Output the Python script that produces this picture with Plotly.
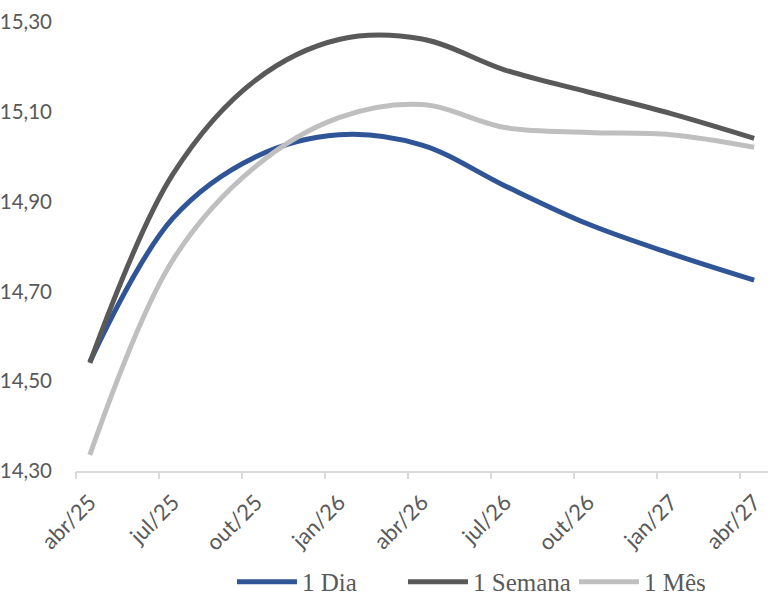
import plotly.graph_objects as go

quarters = ["abr/25", "jul/25", "out/25", "jan/26", "abr/26", "jul/26", "out/26", "jan/27", "abr/27"]
dia = [14.543, 14.863, 15.000, 15.049, 15.026, 14.935, 14.850, 14.784, 14.725]
semana = [14.541, 14.961, 15.171, 15.261, 15.262, 15.193, 15.144, 15.096, 15.041]
mes = [14.336, 14.770, 14.979, 15.087, 15.116, 15.065, 15.054, 15.049, 15.021]
y_ticks = [14.30, 14.50, 14.70, 14.90, 15.10, 15.30]

months_per_q = 3
xpos = [i * months_per_q for i in range(len(quarters))]
n_months = xpos[-1] + 1
boundaries = [m - 0.5 for m in range(0, n_months, months_per_q)]

SANS = "Lato, sans-serif"
SERIF = "Liberation Serif, serif"
TXT = "#595959"

fig = go.Figure()
series = [("1 Dia", dia, "#2F5597"), ("1 Semana", semana, "#595959"), ("1 Mês", mes, "#BFBFBF")]
for name, vals, col in series:
    fig.add_trace(go.Scatter(x=xpos, y=vals, name=name, mode="lines",
                             line=dict(color=col, width=5, shape="spline", smoothing=1)))

# invisible trace for tick-mark axis
fig.add_trace(go.Scatter(x=[boundaries[0]], y=[y_ticks[0]], xaxis="x2", mode="markers",
                         marker=dict(opacity=0), showlegend=False, hoverinfo="skip"))

fig.update_layout(
    width=779, height=597,
    margin=dict(l=76, r=11, t=22, b=126, autoexpand=False),
    paper_bgcolor="white", plot_bgcolor="white",
    font=dict(family=SANS, size=22, color=TXT),
    showlegend=True,
    legend=dict(orientation="h", x=0.2254, y=-0.247, xanchor="left", yanchor="middle",
                font=dict(family=SERIF, size=25, color=TXT), itemwidth=60,
                entrywidth=96, entrywidthmode="pixels", traceorder="normal"),
    xaxis=dict(range=[-0.5, n_months - 0.5], tickvals=xpos, ticktext=quarters, tickangle=-45,
               showline=True, linecolor="#D9D9D9", linewidth=1.5, ticks="", showgrid=False,
               zeroline=False, automargin=False, ticklabelstandoff=8,
               tickfont=dict(family=SANS, size=22, color=TXT)),
    xaxis2=dict(range=[-0.5, n_months - 0.5], overlaying="x", anchor="y", side="bottom",
                tickvals=boundaries, ticks="outside", ticklen=7, tickcolor="#D9D9D9", tickwidth=1.5,
                showticklabels=False, showline=False, showgrid=False, zeroline=False, automargin=False),
    yaxis=dict(range=[14.30, 15.30], tickvals=y_ticks,
               ticktext=[f"{v:.2f}".replace(".", ",") for v in y_ticks],
               showline=False, showgrid=False, zeroline=False, ticks="", automargin=False,
               ticklabelstandoff=23, tickfont=dict(family=SANS, size=20.5, color=TXT)),
)

fig.write_html("out.html", config={"displayModeBar": False},
               post_script="document.body.style.margin='0';")
